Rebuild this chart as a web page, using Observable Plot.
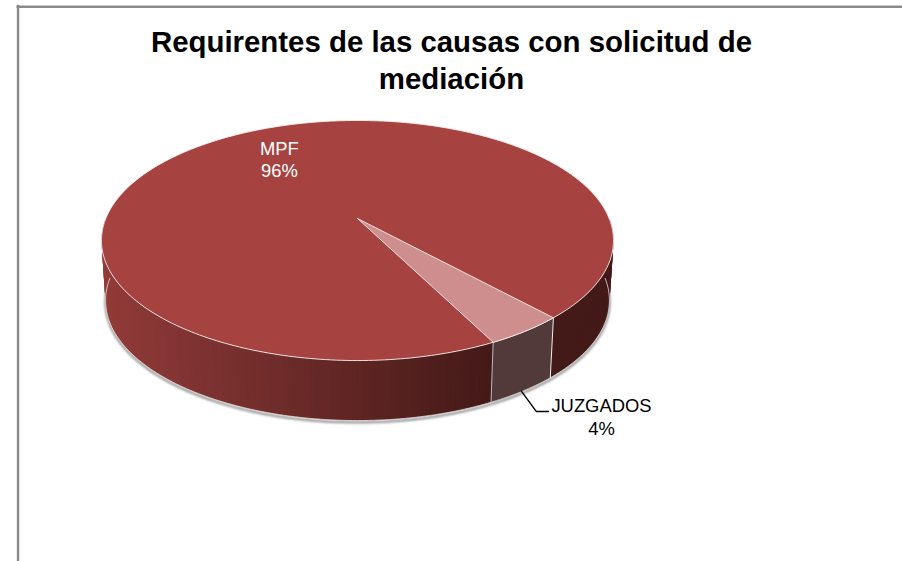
<!DOCTYPE html>
<html><head><meta charset="utf-8">
<script src="https://cdn.jsdelivr.net/npm/d3@7"></script>
<script src="https://cdn.jsdelivr.net/npm/@observablehq/plot@0.6"></script>
<style>html,body{margin:0;padding:0;background:#fff}svg{display:block}</style>
</head><body><div id="chart"></div>
<script>
const categories = ["MPF", "JUZGADOS"];
const shares = [95.7, 4.3];
const titleLines = ["Requirentes de las causas con solicitud de", "mediación"];
const colors = {top: "#a64341", topLight: "#cf8e8e", sideLight: "#533a3a", sideFrom: "#923b39", sideTo: "#441a18"};

// Perspective model of the disc; unit circle -> normalised view coordinates
const k = 0.1833;
const startDeg = 47.6 + 15.6; // MPF starts where JUZGADOS ends, clockwise
const rad = d => d * Math.PI / 180;
const persp = t => { const X = Math.cos(rad(t)), Y = Math.sin(rad(t)); return [X / (1 - k * Y), Y / (1 - k * Y)]; };
const topPt = t => { const [a, b] = persp(t); return {x: 0.9832 * a, y: -0.1833 + 0.9667 * b}; };
const botPt = t => { const [a, b] = persp(t); return {x: 0.9675 * a, y: 0.3167 + 0.9667 * b}; };
const centre = {x: 0, y: -0.1833};

const juzSpan = shares[1] * 3.6;
const juzStart = startDeg - juzSpan, juzEnd = startDeg;
const range = (a, b, s = 1) => d3.range(a, b, s).concat([b]);

const rim = range(0, 360).map(topPt);
const bottomRim = range(0, 180).map(botPt);
const colorAt = d3.scaleLinear().domain([-1, 0.52]).range([colors.sideFrom, colors.sideTo]).clamp(true);

// Side wall: overlapping strips so that the shading has no seams
const strips = [];
for (const t of d3.range(0, 180, 1)) {
  const a = topPt(t), b = topPt(t + 2), c = botPt(t + 2), d = botPt(t);
  const fill = colorAt(a.x);
  [a, b, c, d].forEach(p => strips.push({...p, id: t, fill}));
}
const juzSide = [...range(juzStart, juzEnd).map(topPt), ...range(juzStart, juzEnd).reverse().map(botPt)];
const juzTop = [centre, ...range(juzStart, juzEnd).map(topPt), centre];
const edgeA = [topPt(juzStart), botPt(juzStart)], edgeB = [topPt(juzEnd), botPt(juzEnd)];
const midJuz = botPt((juzStart + juzEnd) / 2);
const leader = [{x: midJuz.x - 0.006, y: midJuz.y}, {x: midJuz.x + 0.052, y: midJuz.y + 0.17}, {x: midJuz.x + 0.1, y: midJuz.y + 0.17}];
const labels = [
  {x: -0.305, y: -0.68, text: `${categories[0]}\n${d3.format(".0f")(shares[0])}%`, fill: "#fff"},
  {x: 0.953, y: 1.465, text: `${categories[1]}\n${d3.format(".0f")(shares[1])}%`, fill: "#000"}
];

const chart = Plot.plot({
  width: 902, height: 561, margin: 0, style: {background: "#fff"},
  x: {domain: [-1, 1], range: [101, 613], axis: null},
  y: {domain: [-1, 1], range: [120, 360], axis: null},
  marks: [
    Plot.ruleY([0], {x1: -1.33, x2: 2.2, y: -1.948, stroke: "#8a8a8a", strokeWidth: 2.4}),
    Plot.ruleX([0], {x: -1.326, y1: -1.96, y2: 2.8, stroke: "#8a8a8a", strokeWidth: 2.4}),
    Plot.line(bottomRim, {x: "x", y: d => d.y + 0.015, stroke: "#999", strokeWidth: 2.5, imageFilter: "blur(1px)"}),
    Plot.line(strips, {x: "x", y: "y", z: "id", fill: "fill", stroke: "none"}),
    Plot.line(juzSide, {x: "x", y: "y", fill: colors.sideLight, stroke: "none"}),
    Plot.line(bottomRim, {x: "x", y: "y", stroke: "#e8e8e8", strokeWidth: 0.8}),
    Plot.line(edgeA, {x: "x", y: "y", stroke: "#eee", strokeWidth: 1}),
    Plot.line(edgeB, {x: "x", y: "y", stroke: "#bbb", strokeWidth: 1}),
    Plot.line(rim, {x: "x", y: "y", fill: colors.top, stroke: "#f4eeee", strokeWidth: 0.9}),
    Plot.line(juzTop, {x: "x", y: "y", fill: colors.topLight, stroke: "#f6eeee", strokeWidth: 0.9}),
    Plot.line(leader, {x: "x", y: "y", stroke: "#000", strokeWidth: 1.4}),
    Plot.text(labels, {x: "x", y: "y", text: "text", fill: "fill", fontSize: 18.4, lineHeight: 1.22, fontFamily: "Liberation Sans"}),
    Plot.text([titleLines.join("\n")], {x: 0.367, y: -1.517, text: d => d, fill: "#000", fontSize: 29.4, fontWeight: "bold", lineHeight: 1.25, fontFamily: "Liberation Sans"})
  ]
});
document.getElementById("chart").append(chart);
</script></body></html>
